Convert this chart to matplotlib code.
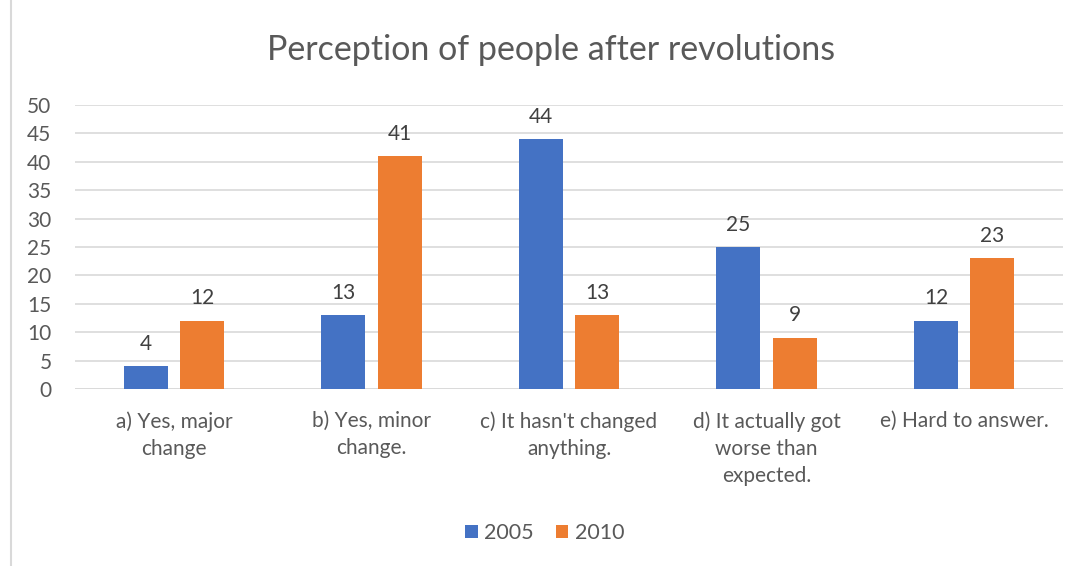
import matplotlib

matplotlib.use("Agg")
import matplotlib.pyplot as plt
import numpy as np

categories = [
    "a) Yes, major\nchange",
    "b) Yes, minor\nchange.",
    "c) It hasn't changed\nanything.",
    "d) It actually got\nworse than\nexpected.",
    "e) Hard to answer.",
]
series_names = ["2005", "2010"]
values_2005 = [4, 13, 44, 25, 12]
values_2010 = [12, 41, 13, 9, 23]
colors = ["#4472C4", "#ED7D31"]
text_color = "#595959"

plt.rcParams["font.family"] = ["Lato", "DejaVu Sans"]

fig = plt.figure(figsize=(10.83, 5.66), dpi=100)
ax = fig.add_axes([0.0693, 0.3127, 0.9122, 0.5018])

x = np.arange(len(categories))
width = 0.223
off = 0.143
for vals, name, col, sign in [(values_2005, series_names[0], colors[0], -1),
                              (values_2010, series_names[1], colors[1], 1)]:
    bars = ax.bar(x + sign * off, vals, width, color=col, label=name, zorder=3)
    for b, v in zip(bars, vals):
        ax.annotate(str(v), (b.get_x() + b.get_width() / 2, v), xytext=(0, 9),
                    textcoords="offset points", ha="center", va="bottom",
                    fontsize=15, color="#404040")

ax.set_xlim(-0.5, len(categories) - 0.5)
ax.set_ylim(0, 50)
ax.set_yticks(range(0, 51, 5))
ax.yaxis.grid(True, color="#d9d9d9", linewidth=1.2, zorder=0)
ax.set_xticks(x)
ax.set_xticklabels(categories, fontsize=15, color=text_color, linespacing=1.45, va="top")
ax.tick_params(axis="both", length=0, colors=text_color, labelsize=15)
ax.tick_params(axis="x", pad=16)
ax.tick_params(axis="y", pad=17)
for s in ax.spines.values():
    s.set_visible(False)
ax.axhline(0, color="#d9d9d9", linewidth=1.2, zorder=1)

fig.text(0.509, 0.912, "Perception of people after revolutions", ha="center", va="center",
         fontsize=24.5, color=text_color)

fig.legend(loc="center", bbox_to_anchor=(0.503, 0.058), ncol=2, frameon=False,
           fontsize=15.5, handlelength=0.6, handleheight=0.6, handletextpad=0.3,
           columnspacing=1.0, labelcolor=text_color)

fig.add_artist(plt.Line2D([0.0102, 0.0102], [0, 1], color="#d9d9d9", linewidth=1.5))

fig.savefig("out.png", dpi=100)
